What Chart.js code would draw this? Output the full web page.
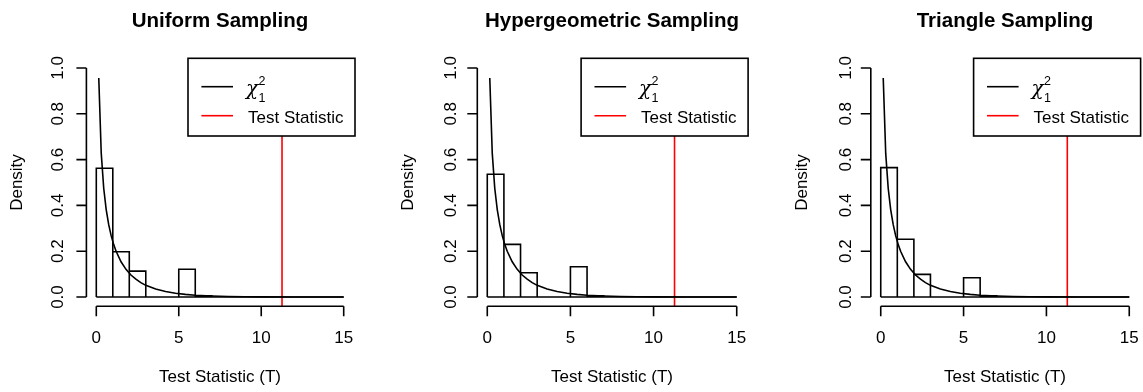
<!DOCTYPE html>
<html><head><meta charset="utf-8">
<script src="https://cdn.jsdelivr.net/npm/chart.js@4.4.0/dist/chart.umd.min.js"></script>
<style>
html,body{margin:0;padding:0;background:#fff;}
body{width:1143px;height:392px;overflow:hidden;position:relative;}
canvas{position:absolute;top:0;}
</style>
</head><body>
<canvas id="c0" width="381" height="392" style="left:0px;width:381px;height:392px"></canvas>
<canvas id="c1" width="381" height="392" style="left:381px;width:381px;height:392px"></canvas>
<canvas id="c2" width="381" height="392" style="left:762px;width:381px;height:392px"></canvas>
<script>
// ---- data ----
const panelTitles = ["Uniform Sampling", "Hypergeometric Sampling", "Triangle Sampling"];
const binEdges = [0,1,2,3,4,5,6,7,8,9,10,11,12,13,14,15];
const uniformDensity     = [0.562,0.198,0.113,0,0,0.121,0.005,0,0,0,0,0,0,0,0];
const hypergeomDensity   = [0.536,0.230,0.106,0,0,0.132,0.005,0,0,0,0,0,0,0,0];
const triangleDensity    = [0.565,0.252,0.099,0,0,0.084,0.005,0,0,0,0,0,0,0,0];
const chiX = [0.15,0.3,0.45,0.6,0.75,0.9,1.05,1.2,1.5,1.8,2.1,2.4,2.7,3.0,3.6,4.2,4.8,5.4,6.0,7.0,8.0,9.0,10.0,12.0,15.0];
const chiY = [0.956,0.627,0.475,0.382,0.317,0.268,0.230,0.200,0.154,0.121,0.096,0.078,0.063,0.051,0.035,0.024,0.0165,0.0115,0.008,0.0046,0.0026,0.0015,0.0009,0.0003,0.0001];
const testStatistic = 11.26;
const xTicks = [0,5,10,15];
const xTickLabels = ["0","5","10","15"];
const yTicks = [0,0.2,0.4,0.6,0.8,1.0];
const yTickLabels = ["0.0","0.2","0.4","0.6","0.8","1.0"];
const xAxisTitle = "Test Statistic (T)";
const yAxisTitle = "Density";
const legendLabels = ["χ", "Test Statistic"];

const densities = [uniformDensity, hypergeomDensity, triangleDensity];
// layout (pixels)
const padLeft  = [86.4, 96.3, 108.8];
const padRight = [27.4, 15.3, 3.8];
const yLabGap  = [23.5, 21.3, 20.3];

const FONT = '"Liberation Sans", Arial, sans-serif';
const LW = 1.6;

function histOutline(edges, dens){
  const pts = [];
  for (let i = 0; i < dens.length; i++){
    pts.push({x:edges[i], y:0});
    pts.push({x:edges[i], y:dens[i]});
    pts.push({x:edges[i+1], y:dens[i]});
    pts.push({x:edges[i+1], y:0});
  }
  pts.push({x:edges[0], y:0});
  return pts;
}

function makePlugin(idx){
  return {
    id: 'rstyle'+idx,
    afterDraw(chart){
      const ctx = chart.ctx, ca = chart.chartArea;
      const xs = chart.scales.x, ys = chart.scales.y;
      ctx.save();
      ctx.strokeStyle = '#000'; ctx.fillStyle = '#000'; ctx.lineWidth = LW;
      // legend box
      const lw = 167, lh = 77.7;
      const lx = ca.right - lw + 1.4, ly = ca.top - 0.5;
      ctx.fillStyle = '#fff';
      ctx.fillRect(lx, ly, lw, lh);
      ctx.strokeStyle = '#000';
      ctx.strokeRect(lx, ly, lw, lh);
      ctx.beginPath(); ctx.moveTo(lx+13.4, ly+28.4); ctx.lineTo(lx+45, ly+28.4); ctx.stroke();
      ctx.strokeStyle = '#ff0000';
      ctx.beginPath(); ctx.moveTo(lx+13.4, ly+57.4); ctx.lineTo(lx+45, ly+57.4); ctx.stroke();
      ctx.fillStyle = '#000';
      ctx.textAlign = 'left'; ctx.textBaseline = 'alphabetic';
      ctx.font = 'italic 20px "DejaVu Serif", serif';
      ctx.fillText(legendLabels[0], lx+58, ly+37);
      ctx.font = '12.5px ' + FONT;
      ctx.fillText('2', lx+70.5, ly+26.8);
      ctx.fillText('1', lx+70.5, ly+43.8);
      ctx.font = '17px ' + FONT;
      ctx.fillText(legendLabels[1], lx+60, ly+64.2);

      // y axis
      ctx.strokeStyle = '#000';
      const ax = ca.left;
      ctx.beginPath();
      ctx.moveTo(ax, ys.getPixelForValue(yTicks[0]));
      ctx.lineTo(ax, ys.getPixelForValue(yTicks[yTicks.length-1]));
      yTicks.forEach(t => { const p = ys.getPixelForValue(t); ctx.moveTo(ax, p); ctx.lineTo(ax-10, p); });
      ctx.stroke();
      ctx.font = '17px ' + FONT;
      ctx.textAlign = 'center';
      yTicks.forEach((t,i) => {
        const p = ys.getPixelForValue(t);
        ctx.save(); ctx.translate(ax - yLabGap[idx], p); ctx.rotate(-Math.PI/2);
        ctx.fillText(yTickLabels[i], 0, 0); ctx.restore();
      });
      // y title
      const ymid = (ys.getPixelForValue(yTicks[0]) + ys.getPixelForValue(yTicks[yTicks.length-1]))/2;
      ctx.save(); ctx.translate(ax - 64, ymid); ctx.rotate(-Math.PI/2);
      ctx.fillText(yAxisTitle, 0, 0); ctx.restore();

      // x axis
      const ay = ca.bottom;
      ctx.beginPath();
      ctx.moveTo(xs.getPixelForValue(xTicks[0]), ay);
      ctx.lineTo(xs.getPixelForValue(xTicks[xTicks.length-1]), ay);
      xTicks.forEach(t => { const p = xs.getPixelForValue(t); ctx.moveTo(p, ay); ctx.lineTo(p, ay+10); });
      ctx.stroke();
      xTicks.forEach((t,i) => ctx.fillText(xTickLabels[i], xs.getPixelForValue(t), ay + 37));
      const xmid = (ca.left + ca.right)/2;
      ctx.fillText(xAxisTitle, xmid, ay + 75.8);
      // title
      ctx.font = 'bold 20.5px ' + FONT;
      ctx.fillText(panelTitles[idx], xmid, 26.7);
      ctx.restore();
    }
  };
}

for (let i = 0; i < 3; i++){
  new Chart(document.getElementById('c'+i), {
    type: 'line',
    data: {
      datasets: [
        { data: histOutline(binEdges, densities[i]), borderColor:'#000', borderWidth:LW, pointRadius:0, tension:0, fill:false },
        { data: chiX.map((x,k)=>({x:x, y:chiY[k]})), borderColor:'#000', borderWidth:LW, pointRadius:0, tension:0, fill:false },
        { data: [{x:testStatistic, y:-0.04},{x:testStatistic, y:1.04}], borderColor:'#ff0000', borderWidth:LW, pointRadius:0, tension:0, fill:false }
      ]
    },
    options: {
      responsive:false, devicePixelRatio:1, animation:false,
      layout: { padding: { left: padLeft[i], right: padRight[i], top: 58.8, bottom: 85.8 } },
      scales: {
        x: { type:'linear', min:-0.6, max:15.6, display:false },
        y: { type:'linear', min:-0.04, max:1.04, display:false }
      },
      plugins: { legend:{display:false}, tooltip:{enabled:false}, title:{display:false} }
    },
    plugins: [makePlugin(i)]
  });
}
</script>
</body></html>
